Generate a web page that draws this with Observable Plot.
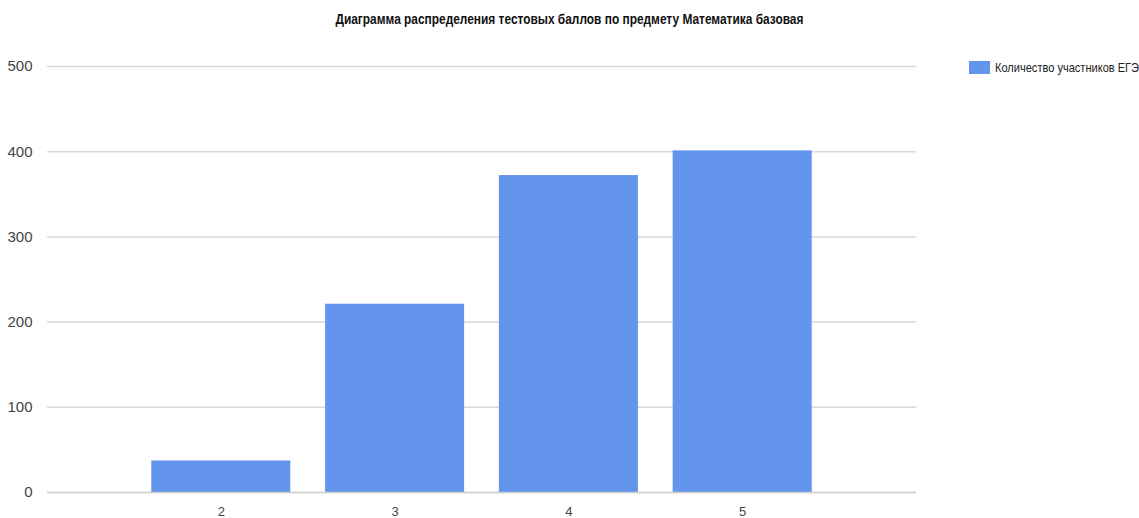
<!DOCTYPE html>
<html>
<head>
<meta charset="utf-8">
<script src="https://cdn.jsdelivr.net/npm/d3@7"></script>
<script src="https://cdn.jsdelivr.net/npm/@observablehq/plot@0.6"></script>
<style>
  body { margin: 0; background: #fff; }
  #wrap { position: relative; width: 1139px; height: 518px; font-family: "Liberation Sans", Arial, sans-serif; }
  #title { position: absolute; left: 0; top: 11px; width: 1139px; text-align: center; font-weight: bold; font-size: 14px; color: #111; transform: scaleX(0.85); transform-origin: 569px 0; }
  #legend { position: absolute; left: 969px; top: 60px; display: flex; align-items: center; font-size: 13px; color: #222; white-space: nowrap; }
  #legend .sw { width: 21px; height: 13px; background: #6495ed; margin-right: 5px; flex: none; }
  #legend span { display: inline-block; transform: scaleX(0.85); transform-origin: 0 50%; }
  #chart { position: absolute; left: 0; top: 0; }
</style>
</head>
<body>
<div id="wrap">
  <div id="chart"></div>
  <div id="title"></div>
  <div id="legend"><div class="sw"></div><span id="legtext"></span></div>
</div>
<script>
const title = "Диаграмма распределения тестовых баллов по предмету Математика базовая";
const seriesName = "Количество участников ЕГЭ";
const scores = [2, 3, 4, 5];
const counts = [37, 221, 372, 401];
const yTicks = [0, 100, 200, 300, 400, 500];

document.getElementById("title").textContent = title;
document.getElementById("legtext").textContent = seriesName;

const data = scores.map((s, i) => ({score: s, count: counts[i]}));

const chart = Plot.plot({
  width: 1139,
  height: 518,
  marginLeft: 47,
  marginRight: 223,
  marginTop: 66,
  marginBottom: 26,
  style: {fontFamily: '"Liberation Sans", Arial, sans-serif', fontSize: "14px", color: "#444", background: "#fff"},
  x: {domain: [1, 6], label: null},
  y: {domain: [0, 500], label: null},
  marks: [
    Plot.gridY(yTicks, {stroke: "#d9d9d9", strokeOpacity: 1, strokeWidth: 1.5}),
    Plot.rectY(data, {x1: d => d.score - 0.4, x2: d => d.score + 0.4, y: "count", fill: "#6495ed"}),
    Plot.ruleY([0], {stroke: "#d0d0d0", strokeWidth: 1.5}),
    Plot.axisY(yTicks, {tickSize: 0, tickPadding: 15, fontSize: 15, fill: "#444", tickFormat: d => String(d)}),
    Plot.axisX(scores, {tickSize: 0, tickPadding: 14, fontSize: 13, fill: "#444", tickFormat: d => String(d)})
  ]
});
document.getElementById("chart").appendChild(chart);
</script>
</body>
</html>
